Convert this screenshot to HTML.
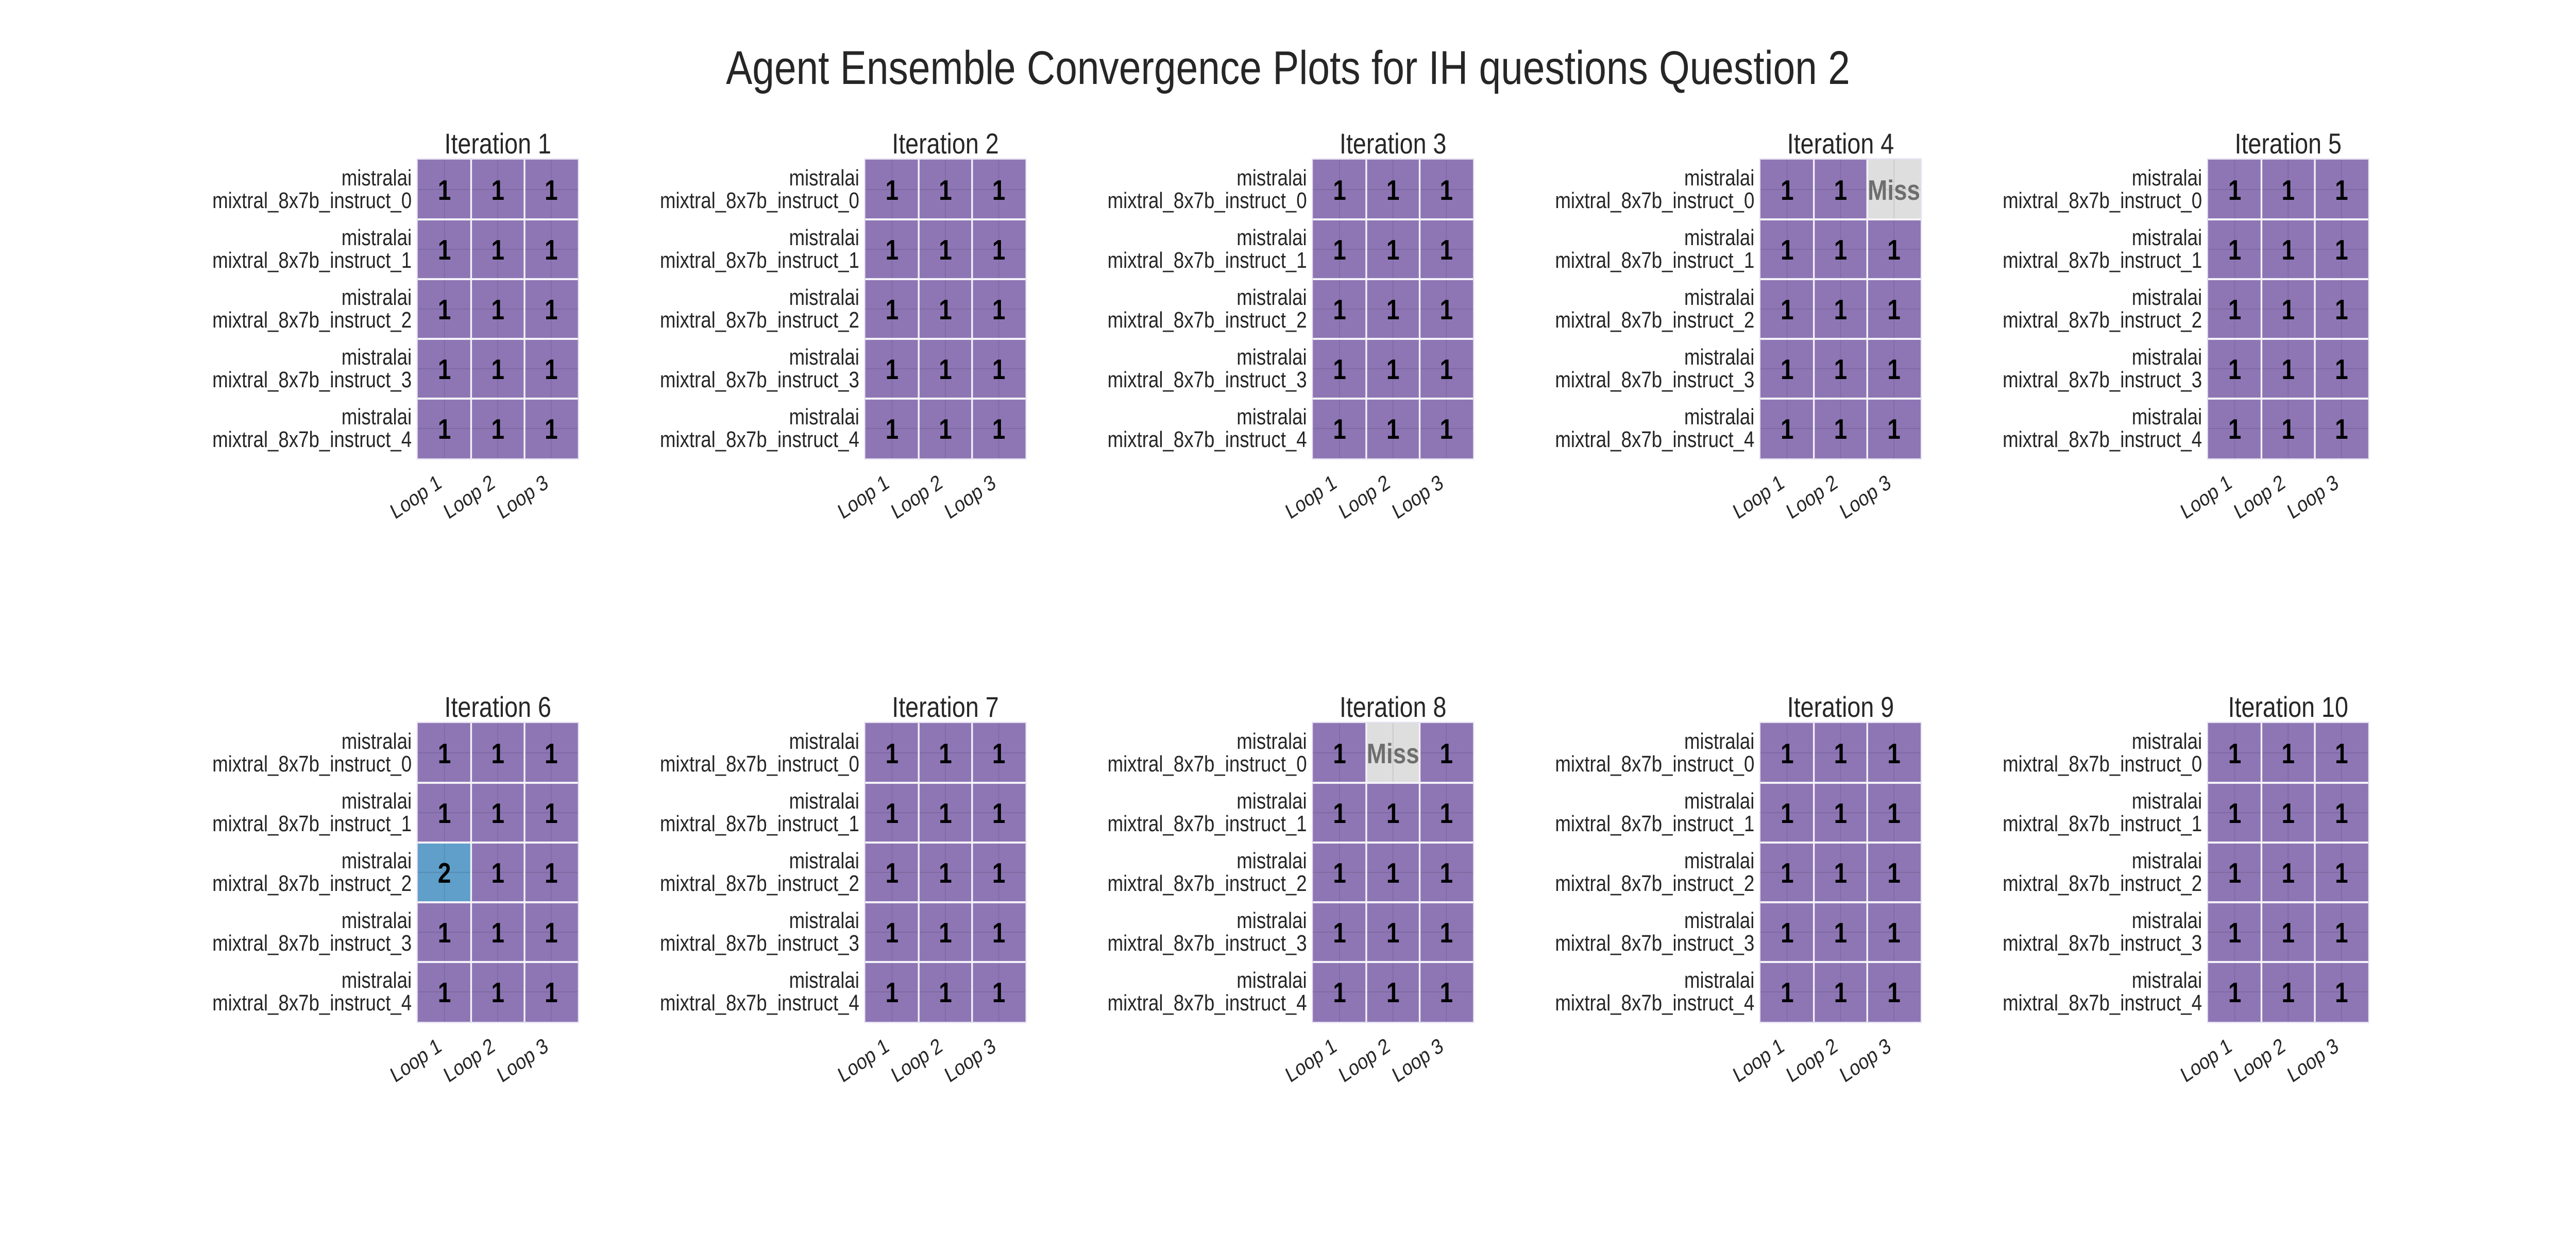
<!DOCTYPE html>
<html>
<head>
<meta charset="utf-8">
<style>
html,body{margin:0;padding:0;background:#fff;overflow:hidden;width:100%;height:100%;}
svg{display:block;width:100vw;height:100vh;}
text{font-family:"Liberation Sans",Arial,sans-serif;}
</style>
</head>
<body>
<svg id="chart" viewBox="0 0 6000 2400" preserveAspectRatio="none" xmlns="http://www.w3.org/2000/svg">
<text x="3000" y="163" text-anchor="middle" font-size="92" fill="#262626">Agent Ensemble Convergence Plots for IH questions Question 2</text>
</svg>
<script>
// Data
const iterations = ["Iteration 1","Iteration 2","Iteration 3","Iteration 4","Iteration 5","Iteration 6","Iteration 7","Iteration 8","Iteration 9","Iteration 10"];
const agents = ["mixtral_8x7b_instruct_0","mixtral_8x7b_instruct_1","mixtral_8x7b_instruct_2","mixtral_8x7b_instruct_3","mixtral_8x7b_instruct_4"];
const agentOrg = "mistralai";
const loops = ["Loop 1","Loop 2","Loop 3"];
const values = [
  [[1,1,1],[1,1,1],[1,1,1],[1,1,1],[1,1,1]],
  [[1,1,1],[1,1,1],[1,1,1],[1,1,1],[1,1,1]],
  [[1,1,1],[1,1,1],[1,1,1],[1,1,1],[1,1,1]],
  [[1,1,"Miss"],[1,1,1],[1,1,1],[1,1,1],[1,1,1]],
  [[1,1,1],[1,1,1],[1,1,1],[1,1,1],[1,1,1]],
  [[1,1,1],[1,1,1],[2,1,1],[1,1,1],[1,1,1]],
  [[1,1,1],[1,1,1],[1,1,1],[1,1,1],[1,1,1]],
  [[1,"Miss",1],[1,1,1],[1,1,1],[1,1,1],[1,1,1]],
  [[1,1,1],[1,1,1],[1,1,1],[1,1,1],[1,1,1]],
  [[1,1,1],[1,1,1],[1,1,1],[1,1,1],[1,1,1]]
];

const NS = "http://www.w3.org/2000/svg";
const svg = document.getElementById("chart");
const colorFor = v => v === "Miss" ? "#dedede" : (v === 2 ? "#5f9fca" : "#8e76b5");
const panelLeft0 = 973, panelStep = 1042.5, gridW = 373;
const rowTops = [310, 1404], gridH = 580;

function mk(tag, attrs, parent) {
  const e = document.createElementNS(NS, tag);
  for (const k in attrs) e.setAttribute(k, attrs[k]);
  parent.appendChild(e);
  return e;
}

iterations.forEach((title, p) => {
  const col = p % 5, row = Math.floor(p / 5);
  const x0 = panelLeft0 + col * panelStep, y0 = rowTops[row];
  const cw = gridW / loops.length, ch = gridH / agents.length;
  const xs = j => x0 + j * cw;
  const ys = i => y0 + i * ch;

  const g = mk("g", {}, svg);
  
  

  const t = mk("text", {x: x0 + gridW / 2, y: y0 - 12, "text-anchor": "middle", "font-size": 56, fill: "#262626"}, g);
  
  
  t.textContent = title;

  mk("rect", {x: x0 - 1, y: y0 - 1, width: gridW + 2, height: gridH + 2, fill: "none", stroke: "#e6e0f0", "stroke-width": 3}, g);

  values[p].forEach((rowVals, i) => {
    rowVals.forEach((v, j) => {
      const r = mk("rect", {x: xs(j), y: ys(i), width: cw, height: ch, fill: colorFor(v)}, g);
      
      
    });
  });
  for (let j = 0; j < loops.length; j++) {
    mk("line", {x1: xs(j) + cw / 2, x2: xs(j) + cw / 2, y1: y0, y2: y0 + gridH, stroke: "rgba(0,0,0,0.1)", "stroke-width": 2}, g);
  }
  for (let i = 0; i < agents.length; i++) {
    mk("line", {x1: x0, x2: x0 + gridW, y1: ys(i) + ch / 2, y2: ys(i) + ch / 2, stroke: "rgba(0,0,0,0.1)", "stroke-width": 2}, g);
  }
  for (let j = 1; j < loops.length; j++) {
    mk("line", {x1: xs(j), x2: xs(j), y1: y0, y2: y0 + gridH, stroke: "#f4f2f8", "stroke-width": 4}, g);
  }
  for (let i = 1; i < agents.length; i++) {
    mk("line", {x1: x0, x2: x0 + gridW, y1: ys(i), y2: ys(i), stroke: "#f4f2f8", "stroke-width": 4}, g);
  }
  values[p].forEach((rowVals, i) => {
    rowVals.forEach((v, j) => {
      const a = mk("text", {x: xs(j) + cw / 2, y: ys(i) + ch / 2 + 20, "text-anchor": "middle", "font-size": 55, "font-weight": "bold", fill: v === "Miss" ? "#6e6e6e" : "#000"}, g);
      
      
      a.textContent = String(v);
    });
  });
  agents.forEach((name, i) => {
    const cy = ys(i) + ch / 2;
    const l = mk("text", {x: x0 - 14, y: cy - 8, "text-anchor": "end", "font-size": 44, fill: "#262626"}, g);
    
    
    const s1 = mk("tspan", {x: x0 - 14, dy: 0}, l);
    s1.textContent = agentOrg;
    const s2 = mk("tspan", {x: x0 - 14, dy: 44}, l);
    s2.textContent = name;
  });
  loops.forEach((lp, j) => {
    const ax = xs(j) + cw / 2 - 4, ay = y0 + gridH + 55;
    const l = mk("text", {x: ax, y: ay, "text-anchor": "end", "font-size": 42, fill: "#262626", transform: `rotate(-30 ${ax} ${ay})`}, g);
    
    
    l.textContent = lp;
  });
});
</script>
</body>
</html>
